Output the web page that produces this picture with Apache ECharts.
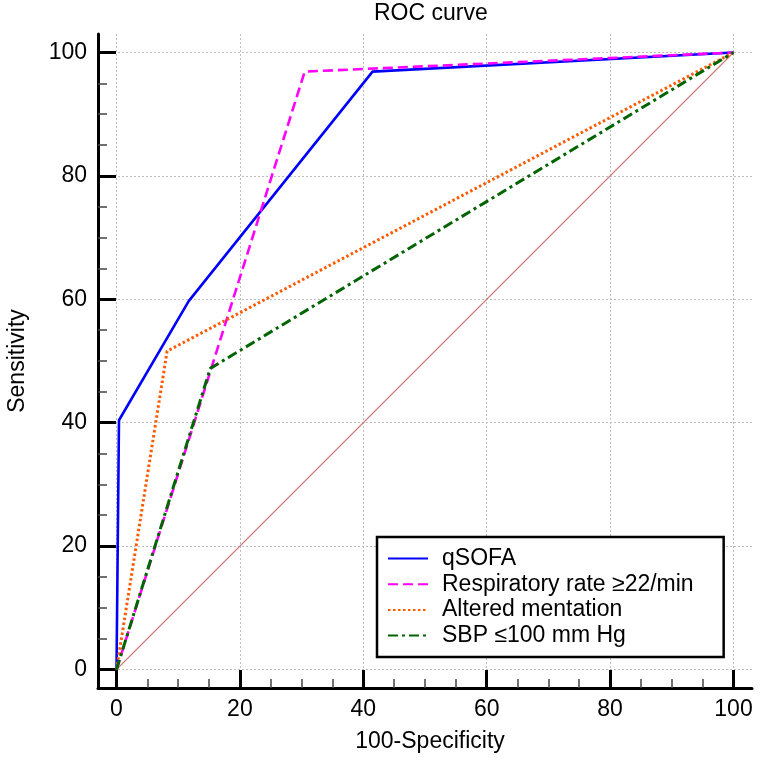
<!DOCTYPE html>
<html>
<head>
<meta charset="utf-8">
<script src="https://cdn.jsdelivr.net/npm/echarts@6/dist/echarts.min.js"></script>
<style>html,body{margin:0;padding:0;background:#fff;}#chart{width:760px;height:758px;}</style>
</head>
<body>
<div id="chart"></div>
<script>
// ---- data ----
const tickValues = [0, 20, 40, 60, 80, 100];
const qsofaX = [0, 0.4, 11.7, 41.5, 100];
const qsofaY = [0, 40.4, 59.7, 96.9, 100];
const respX = [0, 30.5, 100];
const respY = [0, 96.9, 100];
const alteredX = [0, 8.2, 100];
const alteredY = [0, 51.6, 100];
const sbpX = [0, 15.2, 100];
const sbpY = [0, 48.8, 100];
const refX = [0, 100];
const refY = [0, 100];
const seriesNames = ['qSOFA', 'Respiratory rate \u226522/min', 'Altered mentation', 'SBP \u2264100 mm Hg'];

const FONT = 'Liberation Sans, Arial, sans-serif';
const FS = 23;
function pairs(xs, ys) { return xs.map((x, i) => [x, ys[i]]); }

const chart = echarts.init(document.getElementById('chart'), null, {renderer: 'canvas'});

function axisCommon() {
  return {
    type: 'value', min: -3, max: 103,
    axisLine: {show: true, onZero: false, lineStyle: {color: '#000', width: 3}},
    axisTick: {show: true, inside: true, length: 18, customValues: tickValues, lineStyle: {color: '#000', width: 3}},
    minorTick: {show: true, splitNumber: 4, length: 9, lineStyle: {color: '#444', width: 1.5}},
    axisLabel: {customValues: tickValues, color: '#000', fontSize: FS, fontFamily: FONT, margin: 10},
    splitLine: {show: true, lineStyle: {color: '#bdbdbd', width: 1, type: [2, 2]}},
    nameLocation: 'middle',
    nameTextStyle: {color: '#000', fontSize: FS, fontFamily: FONT}
  };
}

const xAxis = Object.assign(axisCommon(), {name: '100-Specificity', nameGap: 42});
xAxis.nameTextStyle = Object.assign({}, xAxis.nameTextStyle, {padding: [0, 0, 0, 10]});
const yAxis = Object.assign(axisCommon(), {name: 'Sensitivity', nameGap: 69});
yAxis.axisLabel = Object.assign({}, yAxis.axisLabel, {margin: 11});

const option = {
  backgroundColor: '#fff',
  animation: false,
  title: {
    text: 'ROC curve', left: 374, top: 2, padding: 0,
    textStyle: {color: '#000', fontSize: FS, fontWeight: 'normal', fontFamily: FONT}
  },
  grid: {left: 98, right: 8, top: 34, bottom: 70, containLabel: false, outerBoundsMode: 'none'},
  xAxis: xAxis,
  yAxis: yAxis,
  legend: {
    orient: 'vertical', left: 377, top: 537,
    data: seriesNames,
    backgroundColor: '#fff', borderColor: '#000', borderWidth: 2.5,
    padding: [10, 30, 10, 10],
    itemWidth: 40, itemHeight: 14, itemGap: 2.7,
    itemStyle: {opacity: 0},
    textStyle: {color: '#000', fontSize: FS, fontFamily: FONT, lineHeight: 23, padding: [0, 0, 0, 9]}
  },
  series: [
    {name: 'ref', type: 'line', data: pairs(refX, refY), symbol: 'none', silent: true,
     lineStyle: {color: '#d07878', width: 1.1}, z: 1},
    {name: seriesNames[0], type: 'line', data: pairs(qsofaX, qsofaY), symbol: 'none',
     itemStyle: {color: '#0000ff'}, lineStyle: {color: '#0000ff', width: 2.6}, z: 2},
    {name: seriesNames[1], type: 'line', data: pairs(respX, respY), symbol: 'none',
     itemStyle: {color: '#ff00ff'}, lineStyle: {color: '#ff00ff', width: 2.6, type: [10, 5]}, z: 3},
    {name: seriesNames[2], type: 'line', data: pairs(alteredX, alteredY), symbol: 'none',
     itemStyle: {color: '#ff5a00'}, lineStyle: {color: '#ff5a00', width: 3, type: [2.5, 2.5]}, z: 4},
    {name: seriesNames[3], type: 'line', data: pairs(sbpX, sbpY), symbol: 'none',
     itemStyle: {color: '#006400'}, lineStyle: {color: '#006400', width: 3, type: [10, 4, 3, 4]}, z: 5}
  ]
};
chart.setOption(option);
</script>
</body>
</html>
